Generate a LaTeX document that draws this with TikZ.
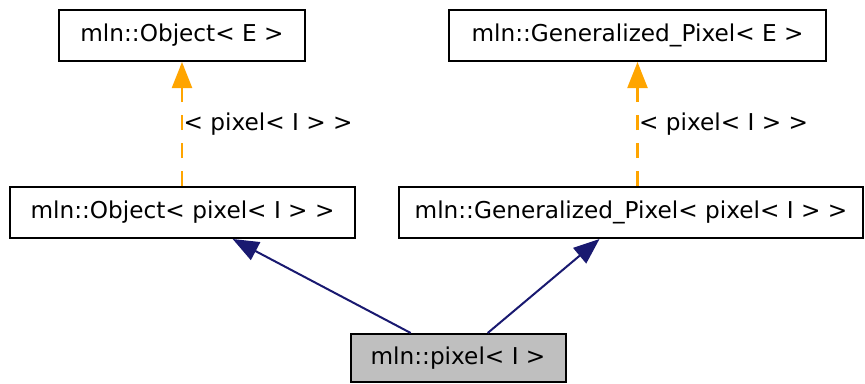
\documentclass[tikz,border=0pt]{standalone}
\usepackage{fontspec}
\setmainfont{DejaVu Sans}
\usetikzlibrary{arrows.meta}
\definecolor{edgeblue}{HTML}{191970}
\definecolor{edgeorange}{HTML}{FFA500}
\definecolor{boxgray}{HTML}{BFBFBF}
\tikzset{
  classbox/.style={draw, line width=2pt, inner sep=0pt, minimum height=51pt, font=\fontsize{23.2}{27}\selectfont},
  inherit/.style={draw=edgeblue, line width=2pt, -{Triangle[length=26pt, width=20pt]}},
  templ/.style={draw=edgeorange, line width=2.2pt, dash pattern=on 15pt off 13pt, -{Triangle[length=26pt, width=20pt, fill=edgeorange]}},
  templlabel/.style={right, inner sep=0.5pt, text=black, font=\fontsize{23.2}{27}\selectfont}
}
\begin{document}
\begin{tikzpicture}[x=1pt, y=-1pt]
\useasboundingbox (0,0) rectangle (865,383);
\node[classbox, minimum width=246pt] (objE) at (182,35.5) {mln::Object< E >};
\node[classbox, minimum width=377pt] (gpE) at (637.5,35.5) {mln::Generalized\_Pixel< E >};
\node[classbox, minimum width=345pt] (objP) at (182.5,212.5) {mln::Object< pixel< I > >};
\node[classbox, minimum width=464pt] (gpP) at (631,212.5) {mln::Generalized\_Pixel< pixel< I > >};
\node[classbox, fill=boxgray, minimum width=215pt, minimum height=48pt] (pix) at (458,358) {mln::pixel< I >};
\draw[inherit] (pix) -- (objP);
\draw[inherit] (pix) -- (gpP);
\draw[templ] (objP.north -| objE.south) -- node[templlabel] {< pixel< I > >} (objE.south);
\draw[templ] (gpP.north -| gpE.south) -- node[templlabel] {< pixel< I > >} (gpE.south);
\end{tikzpicture}
\end{document}
